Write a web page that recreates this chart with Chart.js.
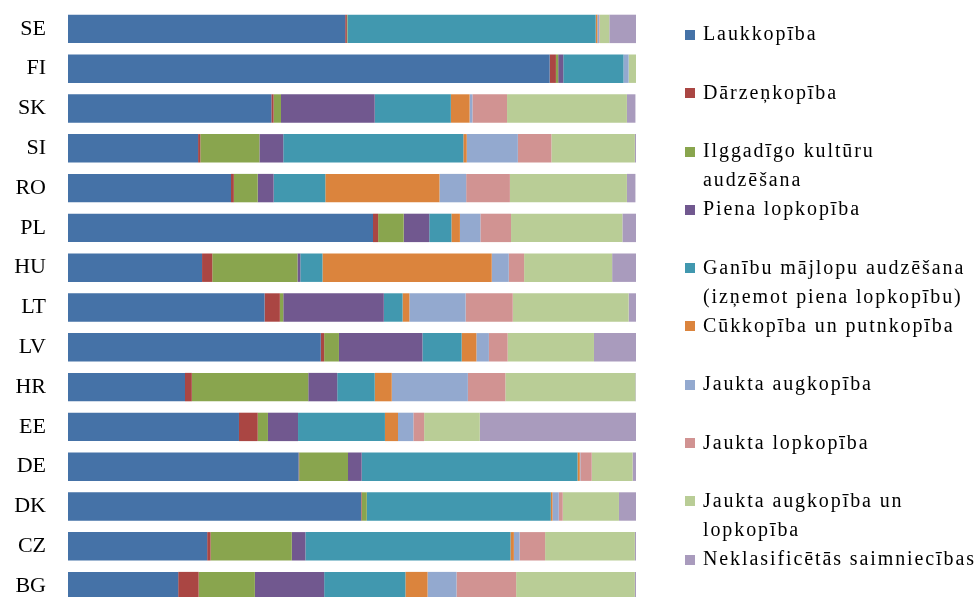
<!DOCTYPE html>
<html lang="lv">
<head>
<meta charset="utf-8">
<title>Saimniecību struktūra pēc specializācijas</title>
<script src="https://cdn.jsdelivr.net/npm/chart.js@4/dist/chart.umd.min.js"></script>
<style>
    html, body { margin: 0; padding: 0; background: #fff; overflow: hidden; }
    body { width: 979px; height: 597px; position: relative; }
    #wrap { position: absolute; left: 0; top: 0; width: 979px; height: 606px; }
    #legend { position: absolute; left: 0; top: 0; width: 979px; height: 597px; pointer-events: none; }
    .lg-item {
        position: absolute; left: 703px;
        font-family: "Liberation Serif", "Times New Roman", serif;
        font-size: 20px; line-height: 29px; letter-spacing: 1.9px;
        color: #000; white-space: nowrap;
    }
    .lg-box { position: absolute; left: -18px; top: 10.6px; width: 10px; height: 10px; }
</style>
</head>
<body>
<div id="wrap"><canvas id="chart"></canvas></div>
<div id="legend"></div>

<script>
    // ------- Dati (%, no augšas uz leju) -------
    const countries = ['SE', 'FI', 'SK', 'SI', 'RO', 'PL', 'HU', 'LT', 'LV', 'HR', 'EE', 'DE', 'DK', 'CZ', 'BG'];

    const laukkopiba      = [48.8, 84.8, 35.8, 22.9, 28.7, 53.7, 23.6, 34.6, 44.5, 20.6, 30.1, 40.6, 51.6, 24.5, 19.4];
    const darzenkopiba    = [0.3, 1.1, 0.4, 0.4, 0.5, 0.9, 1.8, 2.7, 0.6, 1.2, 3.3, 0.1, 0.1, 0.6, 3.6];
    const ilggadigo       = [0.1, 0.4, 1.3, 10.4, 4.2, 4.5, 15.0, 0.6, 2.6, 20.5, 1.8, 8.6, 0.9, 14.3, 9.9];
    const piena           = [0, 0.9, 16.5, 4.2, 2.8, 4.5, 0.5, 17.7, 14.7, 5.1, 5.3, 2.4, 0, 2.4, 12.2];
    const ganibu          = [43.7, 10.6, 13.4, 31.7, 9.1, 3.9, 3.9, 3.3, 6.9, 6.6, 15.3, 38.0, 32.4, 36.1, 14.3];
    const cukkopiba       = [0.3, 0, 3.3, 0.6, 20.1, 1.5, 29.8, 1.2, 2.6, 3.0, 2.3, 0.4, 0.3, 0.6, 3.9];
    const jauktaAug       = [0.3, 0.9, 0.5, 9.0, 4.7, 3.6, 3.0, 9.9, 2.2, 13.4, 2.7, 0.1, 1.1, 1.0, 5.1];
    const jauktaLop       = [0.1, 0, 6.1, 5.9, 7.7, 5.4, 2.7, 8.3, 3.3, 6.6, 1.9, 2.0, 0.7, 4.5, 10.5];
    const jauktaAugLop    = [1.7, 1.3, 21.1, 14.7, 20.6, 19.6, 15.5, 20.4, 15.2, 22.9, 9.8, 7.2, 9.9, 15.8, 20.9];
    const neklasificetas  = [4.7, 0, 1.5, 0.2, 1.5, 2.4, 4.2, 1.3, 7.4, 0.1, 27.5, 0.6, 3.0, 0.2, 0.2];

    // leģendas teksts (rindās, kā oriģinālā)
    const seriesNames = [
        ['Laukkopība'],
        ['Dārzeņkopība'],
        ['Ilggadīgo kultūru', 'audzēšana'],
        ['Piena lopkopība'],
        ['Ganību mājlopu audzēšana', '(izņemot piena lopkopību)'],
        ['Cūkkopība un putnkopība'],
        ['Jaukta augkopība'],
        ['Jaukta lopkopība'],
        ['Jaukta augkopība un', 'lopkopība'],
        ['Neklasificētās saimniecības']
    ];
    const seriesData = [laukkopiba, darzenkopiba, ilggadigo, piena, ganibu, cukkopiba, jauktaAug, jauktaLop, jauktaAugLop, neklasificetas];
    const seriesColors = ['#4572A7', '#AA4643', '#89A54E', '#71588F', '#4198AF', '#DB843D', '#93A9CF', '#D19392', '#B9CD96', '#A99BBD'];

    // ------- Grafiks -------
    const datasets = seriesData.map((d, i) => ({
        label: seriesNames[i].join(' '),
        data: d,
        backgroundColor: seriesColors[i],
        borderWidth: 0,
        barPercentage: 0.714,
        categoryPercentage: 1
    }));

    new Chart(document.getElementById('chart'), {
        type: 'bar',
        data: { labels: countries, datasets },
        options: {
            indexAxis: 'y',
            responsive: true,
            maintainAspectRatio: false,
            animation: false,
            layout: { padding: { top: 9, right: 343, bottom: 0, left: 0 } },
            plugins: { legend: { display: false }, tooltip: { enabled: false } },
            scales: {
                x: { stacked: true, min: 0, max: 100, display: false },
                y: {
                    stacked: true,
                    grid: { display: false, drawTicks: false },
                    border: { display: false },
                    ticks: {
                        padding: 22,
                        color: '#000',
                        font: { family: 'Liberation Serif', size: 22 }
                    },
                    // fiksēts ass platums; tick padding nedrīkst saspiest laukumu vertikāli
                    afterFit: (s) => { s.width = 68; s.paddingTop = 0; s.paddingBottom = 0; }
                }
            }
        }
    });

    // ------- Leģenda -------
    const legend = document.getElementById('legend');
    legend.innerHTML = seriesNames.map((lines, i) =>
        `<div class="lg-item" style="top:${(19.4 + i * 58.3).toFixed(1)}px">` +
        `<span class="lg-box" style="background:${seriesColors[i]}"></span>${lines.join('<br>')}</div>`
    ).join('');
</script>
</body>
</html>
